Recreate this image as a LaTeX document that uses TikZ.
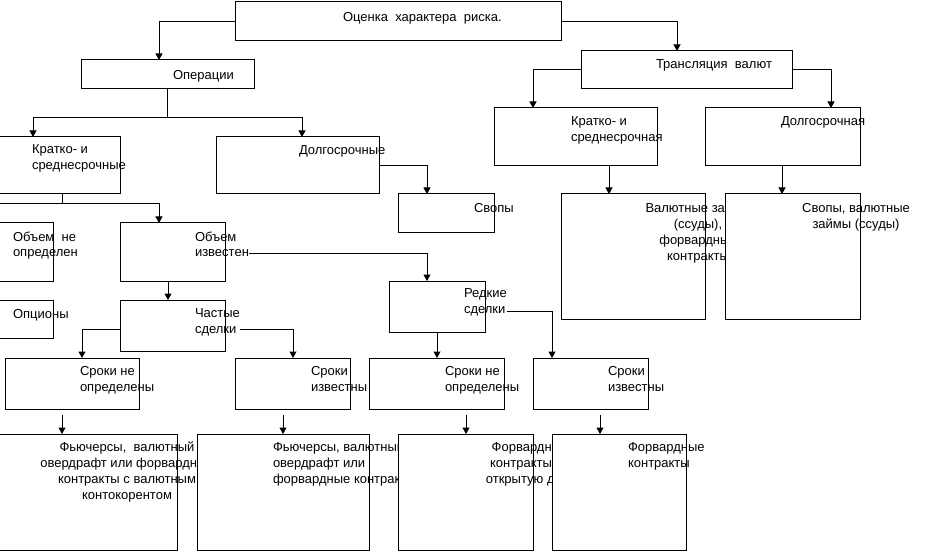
\documentclass[tikz,border=0pt]{standalone}
\usepackage{fontspec}
\setmainfont{Liberation Sans}
\usetikzlibrary{arrows.meta}
\newcommand\mkbox[5]{\node[boxfill, minimum width={(#4)-(#2)}, minimum height={(#5)-(#3)}] (#1) at (#2,#3) {};}
\newcommand\mkedge[1]{\draw[boxline] (#1.north west) rectangle (#1.south east);}
\begin{document}
\begin{tikzpicture}[x=1pt,y=-1pt,
  boxfill/.style={fill=white, draw=none, inner sep=0pt, outer sep=0pt, anchor=north west},
  boxline/.style={draw=black, line width=1pt},
  txt/.style={font=\fontsize{13}{16}\selectfont, inner sep=0pt, outer sep=0pt, align=left, fill=white, anchor=north west},
  ctxt/.style={txt, align=center, anchor=north},
  ln/.style={draw=black, line width=1pt},
  arr/.style={ln, -{Triangle[width=7pt,length=6.5pt]}}]
\useasboundingbox (0,0) rectangle (928,553);
\fill[white] (0,0) rectangle (928,553);
\clip (0,0) rectangle (928,553);

% ---------- connector points ----------
\coordinate (c-oper) at (159,60);
\coordinate (c-trans) at (677,51);
\coordinate (c-b0) at (167.5,118);
\coordinate (c-kr) at (33,137);
\coordinate (c-dl) at (302,137);
\coordinate (c-k0) at (62,194);
\coordinate (c-k1) at (62,204);
\coordinate (c-oi) at (159,223);
\coordinate (c-on) at (-20,223);
\coordinate (c-sv) at (427,194);
\coordinate (c-oi1) at (225,253);
\coordinate (c-rd) at (427,281);
\coordinate (c-oi2) at (168,281);
\coordinate (c-ch) at (168,300);
\coordinate (c-chl) at (120,329);
\coordinate (c-chr) at (225,329);
\coordinate (c-s1) at (82,358);
\coordinate (c-s2) at (293,358);
\coordinate (c-s3) at (437,358);
\coordinate (c-rdr) at (485,311);
\coordinate (c-s4) at (552,358);
\coordinate (c-d1a) at (62,415);   \coordinate (c-d1b) at (62,434);
\coordinate (c-d2a) at (283,415);  \coordinate (c-d2b) at (283,434);
\coordinate (c-d3a) at (466,415);  \coordinate (c-d3b) at (466,434);
\coordinate (c-d4a) at (600,415);  \coordinate (c-d4b) at (600,434);
\coordinate (c-rkr) at (533,108);
\coordinate (c-rdl) at (831,108);
\coordinate (c-v1a) at (609,166);  \coordinate (c-v1b) at (609,194);
\coordinate (c-v2a) at (782,166);  \coordinate (c-v2b) at (782,194);

% ---------- boxes ----------
\mkbox{ocenka}{235}{2}{561}{41}
\node[txt] (ocenka-t) at (343,10.3) {\strut Оценка\ \ характера\ \ риска.};
\mkedge{ocenka}

\mkbox{oper}{81}{60}{254}{89}
\node[txt] (oper-t) at (173,68.8) {\strut Операции};
\mkedge{oper}

\mkbox{trans}{581}{51}{792}{89}
\node[txt] (trans-t) at (656,57.8) {\strut Трансляция\ \ валют};
\mkedge{trans}

% connectors
\draw[arr] (ocenka.west) -| (c-oper);
\draw[arr] (ocenka.east) -| (c-trans);
\draw[ln] (oper.south) -- (c-b0);
\draw[arr] (c-b0) -| (c-kr);
\draw[arr] (c-b0) -| (c-dl);
\draw[ln] (c-k0) -- (c-k1);
\draw[arr] (c-k1) -| (c-oi);
\draw[arr] (c-k1) -| (c-on);
\draw[arr] (c-oi1) -| (c-rd);
\draw[arr] (c-oi2) -- (c-ch);
\draw[arr] (c-chl) -| (c-s1);
\draw[arr] (c-chr) -| (c-s2);
\draw[arr] (c-rdr) -| (c-s4);
\draw[arr] (c-d1a) -- (c-d1b);
\draw[arr] (c-d2a) -- (c-d2b);
\draw[arr] (c-d3a) -- (c-d3b);
\draw[arr] (c-d4a) -- (c-d4b);
\draw[arr] (trans.west) -| (c-rkr);
\draw[arr] (trans.east) -| (c-rdl);
\draw[arr] (c-v1a) -- (c-v1b);
\draw[arr] (c-v2a) -- (c-v2b);

\mkbox{kratko}{-10}{137}{120}{194}
\node[txt] (kratko-t) at (32,142.8) {\strut Кратко- и\\среднесрочные};
\mkedge{kratko}

\mkbox{dolg}{216}{137}{379}{194}
\node[txt] (dolg-t) at (299,143.3) {\strut Долгосрочные};
\mkedge{dolg}
\draw[arr] (dolg.east) -| (c-sv);

\mkbox{svopy}{398}{194}{494}{233}
\node[txt] (svopy-t) at (474,201.5) {\strut Свопы};
\mkedge{svopy}

\mkbox{obneop}{-10}{223}{53}{281}
\node[txt] (obneop-t) at (13,229.8) {\strut Объем\ \ не\\определен};
\mkedge{obneop}

\mkbox{obizv}{120}{223}{225}{281}
\node[txt] (obizv-t) at (195,229.8) {\strut Объем\\известен};
\mkedge{obizv}

\mkbox{opcion}{-10}{300}{53}{338}
\node[txt] (opcion-t) at (13,307.1) {\strut Опционы};
\mkedge{opcion}

\mkbox{chast}{120}{300}{225}{351}
\node[txt] (chast-t) at (195,306.5) {\strut Частые\\сделки};
\mkedge{chast}

\mkbox{redk}{389}{281}{485}{332}
\node[txt] (redk-t) at (464,286.5) {\strut Редкие\\сделки};
\mkedge{redk}
\draw[arr] (redk.south) -- (c-s3);

\mkbox{s1}{5}{358}{139}{409}
\node[txt] (s1-t) at (80,363.8) {\strut Сроки не\\определены};
\mkedge{s1}

\mkbox{s2}{235}{358}{350}{409}
\node[txt] (s2-t) at (311,363.8) {\strut Сроки\\известны};
\mkedge{s2}

\mkbox{s3}{369}{358}{504}{409}
\node[txt] (s3-t) at (445,363.8) {\strut Сроки не\\определены};
\mkedge{s3}

\mkbox{s4}{533}{358}{648}{409}
\node[txt] (s4-t) at (608,363.8) {\strut Сроки\\известны};
\mkedge{s4}

\mkbox{b1}{-10}{434}{177}{550}
\node[ctxt] (b1-t) at (127,439.8) {\strut Фьючерсы,\ \ валютный\\овердрафт или форвардные\\контракты с валютным\\контокорентом};
\mkedge{b1}

\mkbox{b2}{197}{434}{369}{550}
\node[txt] (b2-t) at (273,439.8) {\strut Фьючерсы, валютный\\овердрафт или\\форвардные контракты};
\mkedge{b2}

\mkbox{b3}{398}{434}{533}{550}
\node[ctxt] (b3-t) at (530,439.8) {\strut Форвардные\\контракты на\\открытую дату};
\mkedge{b3}

\mkbox{b4}{552}{434}{686}{550}
\node[txt] (b4-t) at (628,439.8) {\strut Форвардные\\контракты};
\mkedge{b4}

\mkbox{rkr}{494}{108}{657}{166}
\node[txt] (rkr-t) at (571,114.8) {\strut Кратко- и\\среднесрочная};
\mkedge{rkr}

\mkbox{rdl}{705}{108}{860}{166}
\node[txt] (rdl-t) at (781,114.8) {\strut Долгосрочная};
\mkedge{rdl}

\mkbox{rval}{561}{194}{705}{319}
\node[ctxt] (rval-t) at (698,201.1) {\strut Валютные займы\\(ссуды),\\форвардные\\контракты};
\mkedge{rval}

\mkbox{rsv}{725}{194}{860}{319}
\node[ctxt] (rsv-t) at (856,201.1) {\strut Свопы, валютные\\займы (ссуды)};
\mkedge{rsv}
\end{tikzpicture}
\end{document}
